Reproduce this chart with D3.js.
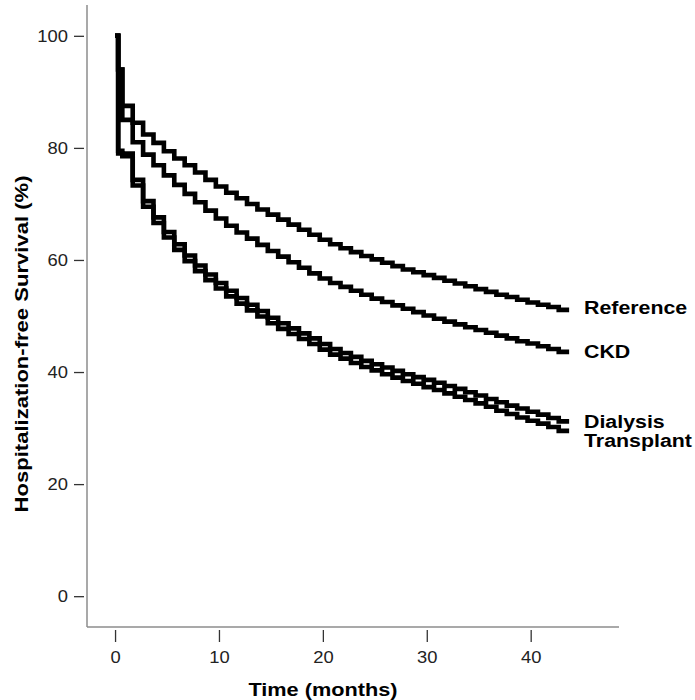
<!DOCTYPE html>
<meta charset="utf-8">
<html>
<script src="https://d3js.org/d3.v7.min.js"></script>
<style>
  body { margin: 0; background: #fff; }
</style>
<div id="km"></div>
<script>

// months at which each step starts
var months = [0, 0.3, 0.7, 1.7, 2.7, 3.7, 4.7, 5.7, 6.7, 7.7, 8.7, 9.7, 10.7, 11.7, 12.7,
  13.7, 14.7, 15.7, 16.7, 17.7, 18.7, 19.7, 20.7, 21.7, 22.7, 23.7, 24.7, 25.7, 26.7,
  27.7, 28.7, 29.7, 30.7, 31.7, 32.7, 33.7, 34.7, 35.7, 36.7, 37.7, 38.7, 39.7, 40.7,
  41.7, 42.7];
var lastMonth = 43.7;

var reference = [100, 94, 87.5, 84.5, 82.4, 80.9, 79.4, 78.1, 76.9, 75.6, 74.3, 73.1, 72.0,
  71.0, 70.0, 69.0, 68.1, 67.2, 66.3, 65.4, 64.5, 63.6, 62.8, 62.1, 61.4, 60.7, 60.1, 59.5,
  58.9, 58.3, 57.8, 57.3, 56.8, 56.3, 55.8, 55.3, 54.8, 54.3, 53.8, 53.4, 52.9, 52.4, 52.0,
  51.6, 51.1];
var ckd = [100, 94, 85, 81.0, 78.8, 76.9, 75.1, 73.4, 71.8, 70.3, 68.8, 67.4, 66.1, 64.9,
  63.8, 62.7, 61.6, 60.6, 59.6, 58.6, 57.6, 56.7, 55.9, 55.2, 54.5, 53.8, 53.1, 52.5, 51.9,
  51.3, 50.7, 50.1, 49.5, 49.0, 48.5, 48.0, 47.5, 47.0, 46.5, 46.0, 45.5, 45.1, 44.6, 44.1,
  43.6];
var dialysis = [100, 79.5, 79.0, 74.3, 70.5, 67.6, 65.0, 62.8, 60.8, 59.0, 57.4, 55.9, 54.5,
  53.2, 52.0, 50.9, 49.7, 48.7, 47.8, 46.9, 46.0, 45.0, 44.1, 43.4, 42.7, 42.0, 41.4, 40.8,
  40.2, 39.6, 39.1, 38.6, 38.1, 37.5, 37.0, 36.4, 35.8, 35.2, 34.6, 34.0, 33.5, 32.9, 32.4,
  31.8, 31.2];
var transplant = [100, 79.0, 78.5, 73.3, 69.5, 66.6, 64.0, 61.8, 59.8, 58.0, 56.4, 54.9, 53.5,
  52.2, 51.0, 49.9, 48.7, 47.7, 46.8, 45.9, 45.0, 44.0, 43.1, 42.4, 41.6, 40.9, 40.3, 39.6,
  39.0, 38.4, 37.9, 37.3, 36.8, 36.2, 35.6, 35.0, 34.4, 33.8, 33.1, 32.5, 31.9, 31.3, 30.8,
  30.2, 29.5];

var groupNames = ["Reference", "CKD", "Dialysis", "Transplant"];
var groupValues = [reference, ckd, dialysis, transplant];

var xTicks = [0, 10, 20, 30, 40];
var yTicks = [0, 20, 40, 60, 80, 100];

var width = 695,
    height = 700;

var svg = d3.select("#km")
  .append("svg")
    .attr("width", width)
    .attr("height", height);

var x = d3.scaleLinear().domain([-2.7, 48.5]).range([87, 619]);
var y = d3.scaleLinear().domain([-5.5, 105.5]).range([627, 5]);

var font = "'Liberation Sans', Arial, sans-serif";

// stretch text a little sideways, the original font is wider than Arial
function widen(sel, k) {
  sel.each(function() {
    var len = this.getComputedTextLength();
    d3.select(this).attr("textLength", len * k).attr("lengthAdjust", "spacingAndGlyphs");
  });
}

// axis lines
svg.append("line")
    .attr("x1", 87).attr("x2", 87)
    .attr("y1", 5).attr("y2", 627)
    .attr("stroke", "#8c8c8c")
    .attr("stroke-width", 1.5);
svg.append("line")
    .attr("x1", 87).attr("x2", 619)
    .attr("y1", 627).attr("y2", 627)
    .attr("stroke", "#8c8c8c")
    .attr("stroke-width", 1.5);

// y axis ticks
var yAxis = svg.append("g")
    .attr("transform", "translate(84,0)")
    .call(d3.axisLeft(y).tickValues(yTicks).tickSize(10).tickPadding(6).tickSizeOuter(0));
yAxis.select(".domain").remove();
yAxis.selectAll(".tick line").attr("stroke", "#333").attr("stroke-width", 1.3);
yAxis.selectAll(".tick text")
    .attr("fill", "#222")
    .style("font-family", font)
    .style("font-size", "17px");
widen(yAxis.selectAll(".tick text"), 1.08);

// x axis ticks
var xAxis = svg.append("g")
    .attr("transform", "translate(0,630)")
    .call(d3.axisBottom(x).tickValues(xTicks).tickSize(12).tickPadding(9).tickSizeOuter(0));
xAxis.select(".domain").remove();
xAxis.selectAll(".tick line").attr("stroke", "#333").attr("stroke-width", 1.3);
xAxis.selectAll(".tick text")
    .attr("fill", "#222")
    .style("font-family", font)
    .style("font-size", "17px");
widen(xAxis.selectAll(".tick text"), 1.08);

// axis titles
var xTitle = svg.append("text")
    .attr("x", 323)
    .attr("y", 696)
    .attr("text-anchor", "middle")
    .style("font-family", font)
    .style("font-weight", "bold")
    .style("font-size", "17.5px")
    .text("Time (months)");
widen(xTitle, 1.24);

var yTitle = svg.append("text")
    .attr("transform", "translate(28,344) rotate(-90)")
    .attr("text-anchor", "middle")
    .style("font-family", font)
    .style("font-weight", "bold")
    .style("font-size", "17.5px")
    .text("Hospitalization-free Survival (%)");
widen(yTitle, 1.26);

// step curves
var line = d3.line()
    .x(function(d) { return x(d[0]); })
    .y(function(d) { return y(d[1]); })
    .curve(d3.curveStepAfter);

groupValues.forEach(function(vals, i) {
  var pts = months.map(function(m, j) { return [m, vals[j]]; });
  pts.push([lastMonth, vals[vals.length - 1]]);
  svg.append("path")
      .datum(pts)
      .attr("d", line)
      .attr("fill", "none")
      .attr("stroke", "#000")
      .attr("stroke-width", 4.6)
      .attr("stroke-linejoin", "miter")
      .attr("stroke-linecap", "butt");
});

// end labels
var labelShift = {"Reference": -2, "CKD": 0, "Dialysis": 0, "Transplant": 10};
groupNames.forEach(function(name, i) {
  var vals = groupValues[i];
  var t = svg.append("text")
      .attr("x", 584)
      .attr("y", y(vals[vals.length - 1]) + labelShift[name])
      .attr("dy", "0.36em")
      .style("font-family", font)
      .style("font-weight", "bold")
      .style("font-size", "17.5px")
      .text(name);
  widen(t, 1.22);
});

</script>
</html>
